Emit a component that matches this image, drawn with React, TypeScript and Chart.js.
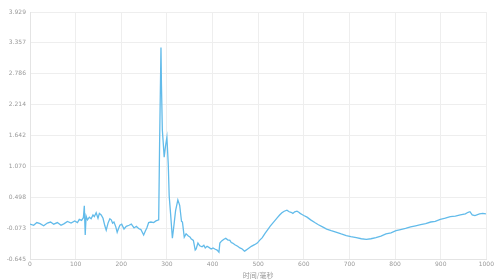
import React, { useEffect, useRef } from "react";
import { Chart, registerables } from "chart.js";

Chart.register(...registerables);

const times = [0,8,15,22,30,38,45,52,60,68,75,82,90,98,104,108,113,117,119,121,123,126,130,134,138,141,145,149,152,156,160,164,167,171,175,178,181,184,188,191,194,197,201,206,211,217,222,228,233,238,243,249,253,256,260,265,271,276,282,284,287,288,290,292,294,297,300,303,305,308,312,315,319,324,328,332,334,338,342,347,351,353,358,362,364,368,372,377,381,384,388,392,397,401,405,410,414,416,420,425,429,433,438,441,444,449,455,460,465,470,472,477,485,492,498,503,509,515,521,526,531,537,542,547,552,557,563,568,572,576,580,585,589,592,596,600,607,615,624,632,641,650,660,672,682,693,703,715,726,737,747,758,769,780,791,802,812,823,834,845,856,867,878,888,899,910,921,932,943,954,960,964,969,975,985,992,999];

const values = [0.00,-0.02,0.03,0.01,-0.03,0.02,0.04,0.00,0.03,-0.02,0.01,0.05,0.02,0.06,0.03,0.09,0.07,0.12,0.34,-0.20,0.15,0.08,0.13,0.10,0.17,0.14,0.21,0.11,0.20,0.17,0.11,-0.03,-0.11,0.02,0.10,0.08,0.02,0.04,-0.05,-0.15,-0.08,-0.02,0.00,-0.09,-0.04,-0.02,0.00,-0.07,-0.04,-0.08,-0.10,-0.20,-0.12,-0.07,0.03,0.04,0.03,0.06,0.08,1.50,3.27,2.60,1.74,1.50,1.24,1.45,1.61,1.10,0.52,0.20,-0.26,-0.05,0.25,0.45,0.35,0.05,0.04,-0.24,-0.18,-0.22,-0.24,-0.27,-0.30,-0.48,-0.46,-0.35,-0.40,-0.42,-0.39,-0.44,-0.41,-0.43,-0.46,-0.44,-0.46,-0.48,-0.52,-0.35,-0.31,-0.28,-0.26,-0.29,-0.30,-0.34,-0.35,-0.38,-0.41,-0.44,-0.46,-0.50,-0.49,-0.46,-0.41,-0.38,-0.35,-0.30,-0.25,-0.17,-0.10,-0.04,0.01,0.07,0.12,0.17,0.21,0.24,0.26,0.23,0.22,0.20,0.23,0.24,0.22,0.20,0.18,0.16,0.13,0.08,0.03,-0.01,-0.05,-0.09,-0.12,-0.15,-0.18,-0.21,-0.23,-0.25,-0.27,-0.28,-0.27,-0.25,-0.22,-0.18,-0.16,-0.12,-0.10,-0.08,-0.05,-0.03,-0.01,0.01,0.04,0.05,0.09,0.11,0.14,0.15,0.17,0.19,0.22,0.23,0.17,0.16,0.19,0.20,0.19];

const yTickLabels = ["-0.645","-0.073","0.498","1.070","1.642","2.214","2.786","3.357","3.929"];
const yMin = -0.645;
const yMax = 3.929;
const xTitle = "时间/毫秒";

export default function App() {
  const ref = useRef<HTMLCanvasElement>(null);
  useEffect(() => {
    document.body.style.margin = "0";
    const ctx = ref.current!;
    const chart = new Chart(ctx, {
      type: "line",
      data: {
        datasets: [
          {
            data: times.map((t, i) => ({ x: t, y: values[i] })),
            borderColor: "#62bbea",
            borderWidth: 1.3,
            pointRadius: 0,
            tension: 0,
            fill: false,
          },
        ],
      },
      options: {
        animation: false,
        responsive: false,
        maintainAspectRatio: false,
        layout: { padding: { top: 12, right: 4, left: 0, bottom: 0 } },
        plugins: { legend: { display: false }, tooltip: { enabled: false } },
        scales: {
          x: {
            type: "linear",
            min: 0,
            max: 1000,
            ticks: {
              stepSize: 100,
              color: "#999",
              font: { size: 6, family: "DejaVu Sans" },
              padding: 2,
              maxRotation: 0,
              callback: (v: any) => String(v),
            },
            grid: { color: "#eeeeee", drawTicks: false },
            border: { color: "#e4e4e4" },
            title: { display: true, text: xTitle, color: "#999", font: { size: 7, family: "Noto Sans CJK SC" }, padding: { top: 2, bottom: 0 } },
            afterFit: (s: any) => { s.height = 21; },
          },
          y: {
            type: "linear",
            min: yMin,
            max: yMax,
            afterBuildTicks: (s: any) => {
              s.ticks = yTickLabels.map((_, i) => ({ value: yMin + ((yMax - yMin) * i) / (yTickLabels.length - 1) }));
            },
            ticks: {
              color: "#999",
              font: { size: 6, family: "DejaVu Sans" },
              padding: 4,
              callback: (_v: any, i: number) => yTickLabels[i],
            },
            grid: { color: "#eeeeee", drawTicks: false },
            border: { color: "#e4e4e4" },
            afterFit: (s: any) => { s.width = 30; },
          },
        },
      },
    });
    return () => chart.destroy();
  }, []);
  return (
    <div style={{ position: "fixed", left: 0, top: 0, width: 496, height: 280, background: "#fff" }}>
      <canvas ref={ref} width={496} height={280} style={{ display: "block" }} />
    </div>
  );
}
